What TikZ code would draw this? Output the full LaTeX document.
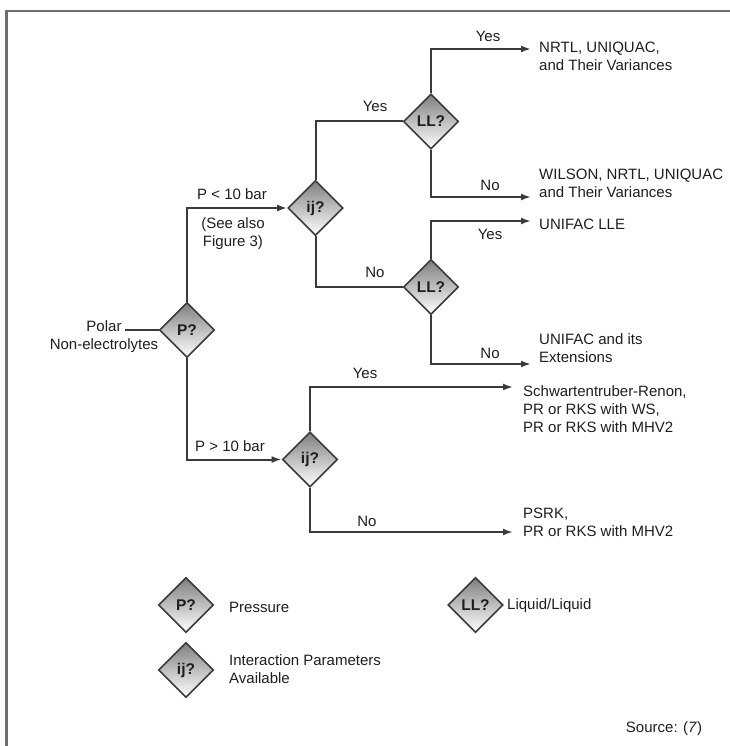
\documentclass[tikz,border=0pt]{standalone}
\usepackage{fontspec}
\setmainfont{Liberation Sans}
\usetikzlibrary{shapes.geometric,arrows.meta}
\definecolor{linec}{HTML}{3A3A3A}
\definecolor{textc}{HTML}{1E1E1E}
\definecolor{framec}{HTML}{6E6E6E}
\begin{document}
\begin{tikzpicture}[x=1pt,y=-1pt,
  every node/.style={text=textc,font=\fontsize{15}{18}\selectfont},
  dec/.style={diamond,draw=linec,line width=1.6pt,top color=black!50,bottom color=white,
    minimum width=55pt,minimum height=55pt,inner sep=0pt,
    font=\fontsize{15.5}{18}\selectfont\bfseries},
  conn/.style={draw=linec,line width=2pt},
  arr/.style={conn,-{Latex[length=10pt,width=7pt]}},
  res/.style={anchor=west,align=left,inner sep=0pt},
  lab/.style={inner sep=0pt}]
\useasboundingbox (0,0) rectangle (729,746);
% frame
\draw[framec,line width=2.4pt] (6.5,750) -- (6.5,11) -- (735,11);

% decision diamonds
\node[dec] (P) at (187,330) {P?};
\node[dec] (ij1) at (315.5,208) {ij?};
\node[dec] (LL1) at (431,121.5) {LL?};
\node[dec] (LL2) at (431,287) {LL?};
\node[dec] (ij3) at (310,459.5) {ij?};

% input
\node[lab,align=center] (polar) at (104,336.5) {Polar\\Non-electrolytes};
\coordinate (polarin) at (125,330);
\draw[conn] (polarin) -- (P.west);

% results
\node[res] (t1) at (539,56.5) {NRTL, UNIQUAC,\\and Their Variances};
\node[res] (t2) at (539,183.5) {WILSON, NRTL, UNIQUAC\\and Their Variances};
\node[res] (t3) at (539,224) {UNIFAC LLE};
\node[res] (t4) at (539,348.5) {UNIFAC and its\\Extensions};
\node[res] (t5) at (523,409.5) {Schwartentruber-Renon,\\PR or RKS with WS,\\PR or RKS with MHV2};
\node[res] (t6) at (523,522.5) {PSRK,\\PR or RKS with MHV2};

\coordinate (e1) at (531,49);
\coordinate (e2) at (531,197);
\coordinate (e3) at (531,221);
\coordinate (e4) at (531,364);
\coordinate (e5) at (513,387);
\coordinate (e6) at (513,532);

% connectors
\draw[arr] (P.north) |- (ij1.west);
\draw[arr] (P.south) |- (ij3.west);
\draw[conn] (ij1.north) |- (LL1.west);
\draw[conn] (ij1.south) |- (LL2.west);
\draw[arr] (LL1.north) |- (e1);
\draw[arr] (LL1.south) |- (e2);
\draw[arr] (LL2.north) |- (e3);
\draw[arr] (LL2.south) |- (e4);
\draw[arr] (ij3.north) |- (e5);
\draw[arr] (ij3.south) |- (e6);

% labels
\node[lab] (l1) at (232,194) {P < 10 bar};
\node[lab,align=center] (l2) at (233,234) {(See also\\Figure 3)};
\node[lab] (l3) at (375,106) {Yes};
\node[lab] (l4) at (488,36) {Yes};
\node[lab] (l5) at (490,185) {No};
\node[lab] (l6) at (375,272) {No};
\node[lab] (l7) at (490,234) {Yes};
\node[lab] (l8) at (490,353) {No};
\node[lab] (l9) at (230,446) {P > 10 bar};
\node[lab] (l10) at (365,373) {Yes};
\node[lab] (l11) at (367,521) {No};

% legend
\node[dec] (kP) at (186,605) {P?};
\node[dec] (kij) at (186,670) {ij?};
\node[dec] (kLL) at (475.5,605) {LL?};
\node[res] (kt1) at (229,607) {Pressure};
\node[res] (kt2) at (229,669) {Interaction Parameters\\Available};
\node[res] (kt3) at (507,606) {Liquid/Liquid};

\node[lab] (src) at (664,729) {Source: (\textit{7})};
\end{tikzpicture}
\end{document}
